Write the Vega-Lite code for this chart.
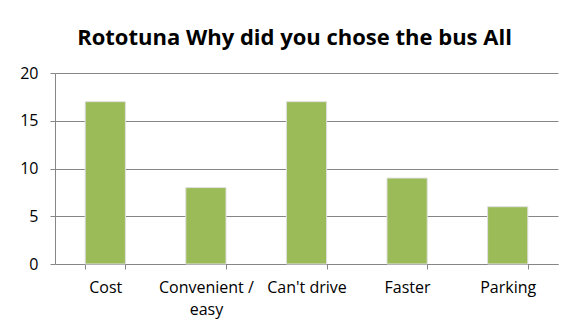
{
  "$schema": "https://vega.github.io/schema/vega-lite/v6.json",
  "autosize": {"type": "none"},
  "width": 503,
  "height": 191,
  "padding": {"left": 55, "top": 73, "right": 17, "bottom": 68},
  "background": "white",
  "title": {
    "text": "Rototuna Why did you chose the bus All",
    "font": "Open Sans",
    "fontSize": 22,
    "fontWeight": "bold",
    "color": "#000000",
    "anchor": "middle",
    "offset": 15,
    "dx": -12
  },
  "data": {
    "values": [
      {"reason": "Cost", "count": 17},
      {"reason": "Convenient / easy", "count": 8},
      {"reason": "Can't drive", "count": 17},
      {"reason": "Faster", "count": 9},
      {"reason": "Parking", "count": 6}
    ]
  },
  "mark": {"type": "bar", "color": "#9BBB59", "stroke": "#e0e0e0", "strokeWidth": 1},
  "encoding": {
    "x": {
      "field": "reason",
      "type": "nominal",
      "sort": null,
      "scale": {"paddingInner": 0.6, "paddingOuter": 0.3},
      "axis": {
        "title": null,
        "labelAngle": 0,
        "labelFont": "Open Sans",
        "labelFontSize": 16,
        "labelColor": "#000000",
        "labelPadding": 10,
        "labelLineHeight": 22,
        "labelExpr": "datum.label == 'Convenient / easy' ? ['Convenient /', 'easy'] : datum.label",
        "domainColor": "#868686",
        "tickColor": "#868686",
        "tickSize": 5,
        "tickBand": "extent",
        "grid": false
      }
    },
    "y": {
      "field": "count",
      "type": "quantitative",
      "scale": {"domain": [0, 20]},
      "axis": {
        "title": null,
        "values": [0, 5, 10, 15, 20],
        "labelFont": "Open Sans",
        "labelFontSize": 16,
        "labelColor": "#000000",
        "labelPadding": 12,
        "domainColor": "#868686",
        "tickColor": "#868686",
        "tickSize": 5,
        "gridColor": "#868686",
        "gridWidth": 1
      }
    }
  },
  "config": {"view": {"stroke": null}}
}
